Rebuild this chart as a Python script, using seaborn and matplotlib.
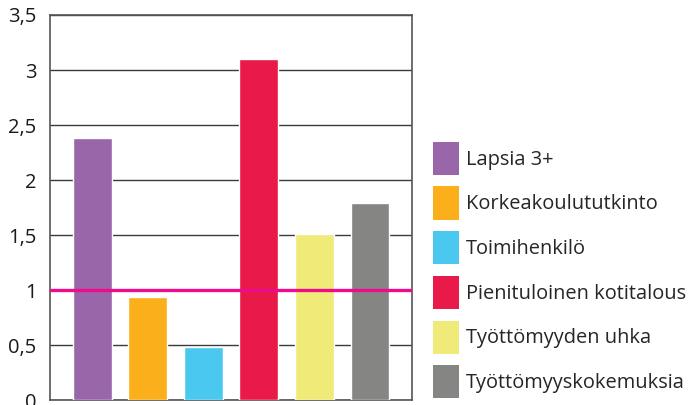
import numpy as np
import pandas as pd
import seaborn as sns
import matplotlib.pyplot as plt
from matplotlib.patches import Patch

categories = ["Lapsia 3+", "Korkeakoulututkinto", "Toimihenkilö",
              "Pienituloinen kotitalous", "Työttömyyden uhka", "Työttömyyskokemuksia"]
values = [2.38, 0.94, 0.48, 3.10, 1.51, 1.79]
colors = ["#9966AA", "#FBB01B", "#4BC8F0", "#E91A4A", "#F0EA78", "#858584"]
yticks = [0, 0.5, 1, 1.5, 2, 2.5, 3, 3.5]
ytick_labels = ["0", "0,5", "1", "1,5", "2", "2,5", "3", "3,5"]
reference_level = 1

df = pd.DataFrame({"kategoria": categories, "arvo": values})

sns.set_style("white")
plt.rcParams["font.family"] = ["Open Sans", "DejaVu Sans"]

fig = plt.figure(figsize=(6.88, 4.05), dpi=100)
ax = fig.add_axes([0.073, 0.012, 0.526, 0.951])

sns.barplot(data=df, x="kategoria", y="arvo", hue="kategoria", palette=colors,
            width=0.7, legend=False, saturation=1, ax=ax, zorder=3)

ax.axhline(reference_level, color="#EC0C8C", lw=2.4, zorder=4)

ax.set_ylim(0, 3.5)
ax.set_xlim(-0.76, len(categories) - 0.24)
ax.set_yticks(yticks)
ax.set_yticklabels(ytick_labels, fontsize=14.5, color="#1a1a1a")
ax.set_xticks([])
ax.set_xlabel("")
ax.set_ylabel("")
ax.tick_params(axis="y", length=0, pad=10)
ax.yaxis.grid(True, color="#3a3a3a", lw=1)
ax.set_axisbelow(True)
for s in ax.spines.values():
    s.set_color("#555555")
    s.set_linewidth(1.2)

handles = [Patch(facecolor=c, edgecolor="none") for c in colors]
fig.legend(handles, categories, loc="upper left", bbox_to_anchor=(0.629, 0.65),
           frameon=False, fontsize=14.4, handlelength=1.3, handleheight=2.17,
           handletextpad=0.35, labelspacing=0.58, borderaxespad=0, borderpad=0)

fig.savefig("out.png", dpi=100)
